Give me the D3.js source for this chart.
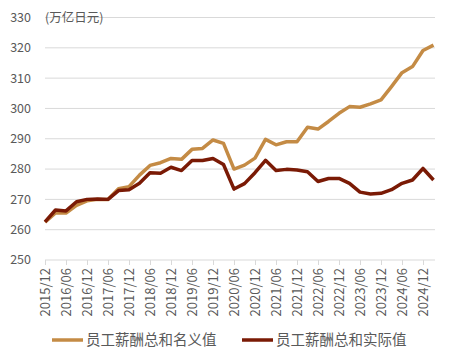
<!DOCTYPE html>
<html>
<head>
<meta charset="utf-8">
<script src="https://cdn.jsdelivr.net/npm/d3@7/dist/d3.min.js"></script>
<style>
  body { margin: 0; background: #fff; }
  svg { display: block; font-family: "Noto Sans CJK SC", "Noto Sans", sans-serif; }
</style>
</head>
<body>
<svg id="chart"></svg>
<script>
const quarters = [
  '2015/12', '2016/03', '2016/06', '2016/09', '2016/12', '2017/03', '2017/06', '2017/09',
  '2017/12', '2018/03', '2018/06', '2018/09', '2018/12', '2019/03', '2019/06', '2019/09',
  '2019/12', '2020/03', '2020/06', '2020/09', '2020/12', '2021/03', '2021/06', '2021/09',
  '2021/12', '2022/03', '2022/06', '2022/09', '2022/12', '2023/03', '2023/06', '2023/09',
  '2023/12', '2024/03', '2024/06', '2024/09', '2024/12', '2025/03'
];

// 员工薪酬总和名义值
const nominal = [
  262.5, 265.5, 265.5, 268.0, 269.5, 270.0, 270.0, 273.5,
  274.2, 278.0, 281.2, 282.1, 283.5, 283.2, 286.5, 286.8,
  289.6, 288.5, 280.0, 281.3, 283.6, 289.8, 288.0, 289.0,
  289.0, 293.8, 293.2, 295.7, 298.4, 300.6, 300.4, 301.5,
  302.8, 307.2, 311.8, 313.8, 319.1, 320.9
];

// 员工薪酬总和实际值
const real = [
  262.6, 266.5, 266.2, 269.2, 270.0, 270.1, 270.0, 272.9,
  273.2, 275.3, 278.8, 278.6, 280.6, 279.5, 282.8, 282.8,
  283.5, 281.5, 273.4, 275.2, 278.8, 282.9, 279.5, 279.9,
  279.7, 279.1, 275.9, 276.9, 276.9, 275.3, 272.4, 271.8,
  272.0, 273.2, 275.3, 276.4, 280.2, 276.4
];

const yTicks = [250, 260, 270, 280, 290, 300, 310, 320, 330];
const seriesNames = ['员工薪酬总和名义值', '员工薪酬总和实际值'];
const seriesColors = ['#C48B45', '#7A1A05'];

const width = 453, height = 363;
const svg = d3.select('#chart').attr('width', width).attr('height', height);

const x = d3.scalePoint().domain(quarters).range([45, 433.5]);
const y = d3.scaleLinear().domain([250, 330]).range([260, 17.5]);

// Gridlines
svg.append('g')
  .selectAll('line')
  .data(yTicks)
  .enter().append('line')
  .attr('x1', 45)
  .attr('x2', 435)
  .attr('y1', d => y(d))
  .attr('y2', d => y(d))
  .attr('stroke', '#d9d9d9')
  .attr('stroke-width', 1);

// Y labels
svg.append('g')
  .selectAll('text')
  .data(yTicks)
  .enter().append('text')
  .attr('x', 31)
  .attr('y', d => y(d))
  .attr('dy', '0.35em')
  .attr('text-anchor', 'end')
  .attr('fill', '#595959')
  .attr('font-size', '12.5px')
  .text(d => d);

// Unit label
svg.append('text')
  .attr('x', 45)
  .attr('y', y(330))
  .attr('dy', '0.38em')
  .attr('fill', '#595959')
  .attr('font-size', '12.5px')
  .text('(万亿日元)');

// X axis
const xAxis = d3.axisBottom(x)
  .tickValues(quarters.filter(q => q.endsWith('/06') || q.endsWith('/12')))
  .tickSize(5)
  .tickSizeOuter(0);

const gx = svg.append('g')
  .attr('transform', `translate(0,${y(250)})`)
  .call(xAxis);

gx.select('.domain').remove();
gx.selectAll('.tick line').attr('stroke', '#d9d9d9');
gx.selectAll('.tick text')
  .attr('transform', 'rotate(-90)')
  .attr('x', -8)
  .attr('y', 0)
  .attr('dy', '0.35em')
  .attr('text-anchor', 'end')
  .attr('fill', '#595959')
  .attr('font-size', '13px')
  .attr('font-family', '"Noto Sans CJK SC", "Noto Sans", sans-serif');

// Lines
const line = d3.line()
  .x((d, i) => x(quarters[i]))
  .y(d => y(d));

[nominal, real].forEach((vals, k) => {
  svg.append('path')
    .datum(vals)
    .attr('d', line)
    .attr('fill', 'none')
    .attr('stroke', seriesColors[k])
    .attr('stroke-width', 3.5)
    .attr('stroke-linejoin', 'round');
});

// Legend
const legendX = [52, 242];
const legend = svg.append('g')
  .selectAll('g')
  .data(seriesNames)
  .enter().append('g')
  .attr('transform', (d, i) => `translate(${legendX[i]},340)`);

legend.append('line')
  .attr('x1', 0)
  .attr('x2', 31)
  .attr('stroke', (d, i) => seriesColors[i])
  .attr('stroke-width', 3.5);

legend.append('text')
  .attr('x', 34)
  .attr('dy', '0.35em')
  .attr('fill', '#595959')
  .attr('font-size', '14.5px')
  .text(d => d);
</script>
</body>
</html>
